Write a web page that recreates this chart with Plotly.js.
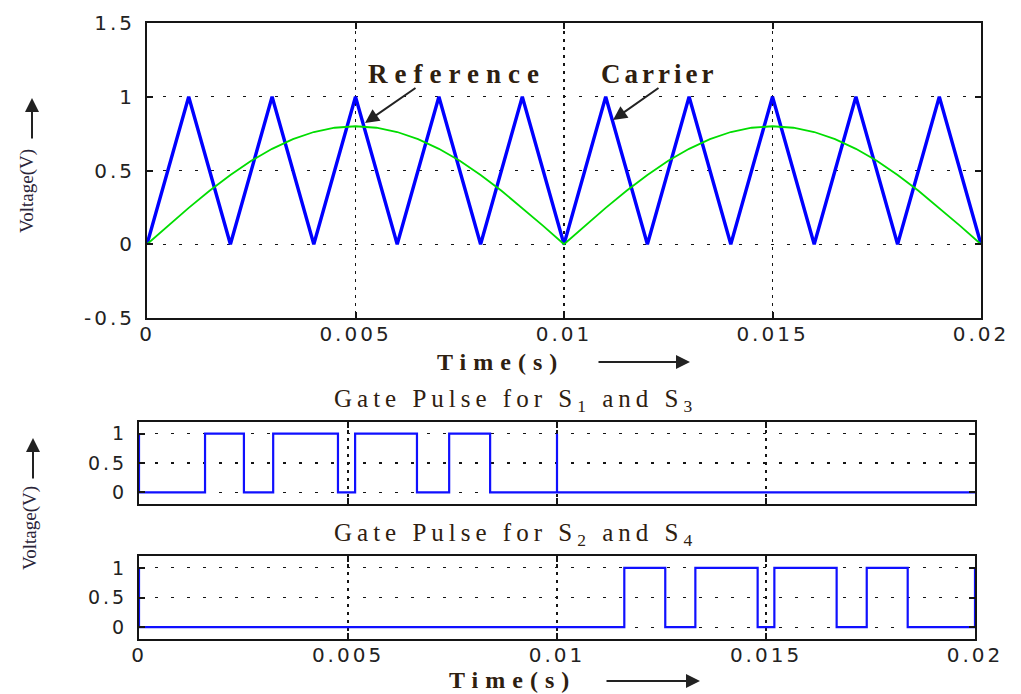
<!DOCTYPE html>
<html><head><meta charset="utf-8">
<script src="https://cdn.plot.ly/plotly-3.0.1.min.js"></script>
<style>
html,body{margin:0;padding:0;background:#fff;}
#chart{width:1021px;height:694px;}
.xtick text,.x2tick text,.x3tick text,.ytick text,.y2tick text,.y3tick text{letter-spacing:3px;}
</style></head><body><div id="chart"></div>
<script>
// ---- data ----
const timeTicks=[0,0.005,0.01,0.015,0.02];
const timeTickLabels=['0','0.005','0.01','0.015','0.02'];
const topYTicks=[-0.5,0,0.5,1,1.5];
const topYTickLabels=['-0.5','0','0.5','1','1.5'];
const gateYTicks=[0,0.5,1];
const gateYTickLabels=['0','0.5','1'];

// triangular carrier (blue)
const carrierT=[0,0.001,0.002,0.003,0.004,0.005,0.006,0.007,0.008,0.009,0.01,0.011,0.012,0.013,0.014,0.015,0.016,0.017,0.018,0.019,0.02];
const carrierV=[0,1,0,1,0,1,0,1,0,1,0,1,0,1,0,1,0,1,0,1,0];

// rectified sine reference (green)
const refT=[0,0.0005,0.001,0.0015,0.002,0.0025,0.003,0.0035,0.004,0.0045,0.005,0.0055,0.006,0.0065,0.007,0.0075,0.008,0.0085,0.009,0.0095,0.01,
            0.0105,0.011,0.0115,0.012,0.0125,0.013,0.0135,0.014,0.0145,0.015,0.0155,0.016,0.0165,0.017,0.0175,0.018,0.0185,0.019,0.0195,0.02];
const refV=[0,0.125,0.247,0.363,0.47,0.566,0.647,0.713,0.761,0.79,0.8,0.79,0.761,0.713,0.647,0.566,0.47,0.363,0.247,0.125,0,
            0.125,0.247,0.363,0.47,0.566,0.647,0.713,0.761,0.79,0.8,0.79,0.761,0.713,0.647,0.566,0.47,0.363,0.247,0.125,0];

// gate pulses (switching instants and levels)
const gate13T=[0,0,0.00158,0.00251,0.00321,0.00476,0.00517,0.00665,0.00742,0.0084,0.01,0.01,0.02];
const gate13V=[1,0,1,0,1,0,1,0,1,0,1,0,0];
const gate24T=[0,0,0.01161,0.01259,0.01331,0.0148,0.0152,0.01669,0.01741,0.01839,0.02];
const gate24V=[1,0,1,0,1,0,1,0,1,0,1];

// ---- layout helpers ----
const W=1021,H=694;
const fx=p=>p/W, fy=p=>1-p/H;
const INK='#151515';
function xa(dom,labels,anchor){
  return {domain:dom,range:[0,0.02],tickmode:'array',tickvals:timeTicks,ticktext:timeTickLabels,
    showticklabels:labels,ticks:'inside',ticklen:6,tickwidth:2,tickcolor:INK,
    showline:true,linewidth:2,linecolor:INK,mirror:'ticks',
    showgrid:true,gridcolor:INK,gridwidth:1.6,griddash:'3px,5px',zeroline:false,anchor:anchor,
    ticklabelstandoff:-3,tickfont:{family:'DejaVu Sans',size:20,color:'#222'},fixedrange:true};
}
function ya(dom,range,vals,labels,anchor,size){
  return {domain:dom,range:range,tickmode:'array',tickvals:vals,ticktext:labels,
    ticks:'inside',ticklen:6,tickwidth:2,tickcolor:INK,
    showline:true,linewidth:2,linecolor:INK,mirror:'ticks',
    showgrid:true,gridcolor:INK,gridwidth:1.2,griddash:'3px,13px',zeroline:false,anchor:anchor,
    ticklabelstandoff:6,tickfont:{family:'DejaVu Sans',size:size,color:'#222'},fixedrange:true};
}

const traces=[
  {x:carrierT,y:carrierV,xaxis:'x',yaxis:'y',mode:'lines',line:{color:'#0000ff',width:3.4},name:'Carrier'},
  {x:refT,y:refV,xaxis:'x',yaxis:'y',mode:'lines',line:{color:'#00dd00',width:1.8},name:'Reference'},
  {x:gate13T,y:gate13V,xaxis:'x2',yaxis:'y2',mode:'lines',line:{color:'#1010ff',width:2.2,shape:'hv'},name:'S1 S3'},
  {x:gate24T,y:gate24V,xaxis:'x3',yaxis:'y3',mode:'lines',line:{color:'#1010ff',width:2.2,shape:'hv'},name:'S2 S4'}
];

const TXT='#2e2010';
const sp=(s,n)=>'<span style="letter-spacing:'+n+'px">'+s+'</span>';
function arrow(hx,hy,tx,ty){
  return {xref:'paper',yref:'paper',x:fx(hx),y:fy(hy),ax:tx-hx,ay:ty-hy,text:'',showarrow:true,
    arrowhead:2,arrowsize:1.4,arrowwidth:2,arrowcolor:'#222',standoff:0};
}
function label(cx,cy,text,font,angle){
  return {xref:'paper',yref:'paper',x:fx(cx),y:fy(cy),xanchor:'center',yanchor:'middle',text:text,
    showarrow:false,font:font,textangle:angle||0};
}
const serifB={family:'Liberation Serif',size:27,color:TXT};
const serifT={family:'Liberation Serif',size:24,color:TXT};
const serif={family:'Liberation Serif',size:25,color:TXT};
const vfont={family:'Liberation Serif',size:19,color:'#2a2438'};

const layout={
  width:W,height:H,margin:{l:0,r:0,t:0,b:0},paper_bgcolor:'#fff',plot_bgcolor:'#fff',showlegend:false,
  xaxis:xa([fx(147),fx(981)],true,'y'),
  yaxis:ya([fy(318),fy(23)],[-0.5,1.5],topYTicks,topYTickLabels,'x',20),
  xaxis2:xa([fx(139),fx(975)],false,'y2'),
  yaxis2:ya([fy(504),fy(422)],[-0.2,1.2],gateYTicks,gateYTickLabels,'x2',19),
  xaxis3:xa([fx(139),fx(975)],true,'y3'),
  yaxis3:ya([fy(639),fy(556)],[-0.2,1.2],gateYTicks,gateYTickLabels,'x3',19),
  annotations:[
    label(457,74,'<b>'+sp('Reference',7)+'</b>',serifB),
    label(659,74,'<b>'+sp('Carrier',4)+'</b>',serifB),
    arrow(365,123,417,87),
    arrow(613,120,660,87),
    label(500,362,'<b>'+sp('Time(s)',7)+'</b>',serifT),
    arrow(690,362,597,362),
    label(515,400,sp('Gate Pulse for S<sub>1</sub> and S<sub>3</sub>',5),serif),
    label(515,534,sp('Gate Pulse for S<sub>2</sub> and S<sub>4</sub>',5),serif),
    label(512,680,'<b>'+sp('Time(s)',7)+'</b>',serifT),
    arrow(700,681,605,681),
    label(27,191,'Voltage(V)',vfont,-90),
    arrow(32,98,32,140),
    label(30,528,'Voltage(V)',vfont,-90),
    arrow(33,438,33,480)
  ]
};
Plotly.newPlot('chart',traces,layout,{staticPlot:true,displayModeBar:false});
</script></body></html>
